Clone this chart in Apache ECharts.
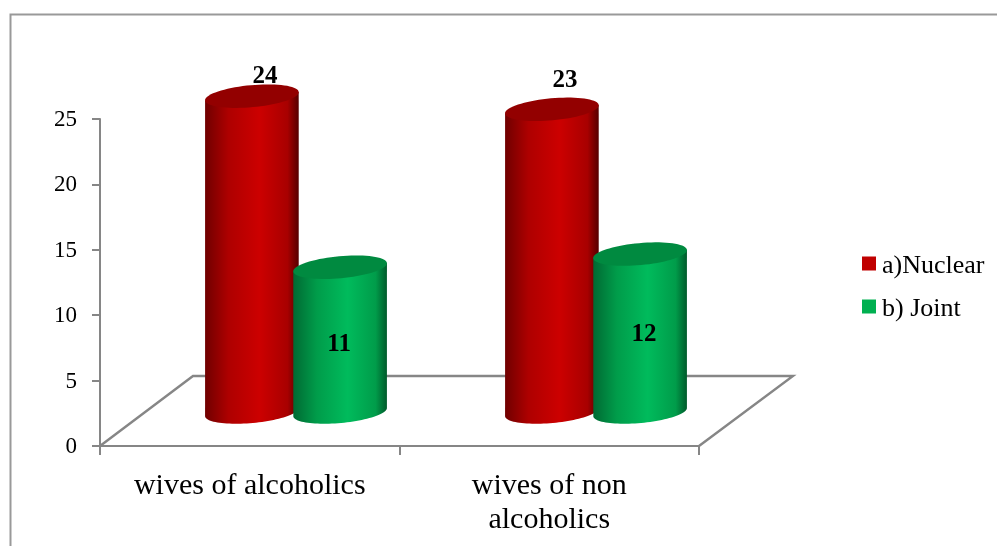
<!DOCTYPE html>
<html>
<head>
<meta charset="utf-8">
<style>html,body{margin:0;padding:0;background:#fff}#c{width:997px;height:546px}</style>
<script src="https://cdn.jsdelivr.net/npm/echarts@6/dist/echarts.min.js"></script>
</head>
<body>
<div id="c"></div>
<script>
const categories = ['wives of alcoholics', 'wives of non\nalcoholics'];
const seriesNames = ['a)Nuclear', 'b) Joint'];
const nuclear = [24, 23];
const joint = [11, 12];
const valueTicks = { min: 0, max: 25, interval: 5 };

const FONT = '"Liberation Serif"';
const AXIS = '#868686';
const labelNudge = { 'a)Nuclear': [[13, -20], [13, -29]], 'b) Joint': [[-1, 77], [4, 80]] };
const look = {
  'a)Nuclear': { solid: '#C00000', top: '#930000',
    stops: [[0, '#700000'], [0.25, '#ae0000'], [0.58, '#cc0000'], [0.88, '#a80000'], [1, '#560000']], shift: -0.147 },
  'b) Joint': { solid: '#00B050', top: '#008a40',
    stops: [[0, '#006a33'], [0.25, '#009c4a'], [0.58, '#00bb5c'], [0.88, '#009c4a'], [1, '#005a2b']], shift: 0.147 }
};

function ellipsePoint(cx, cy, rx, ry, rot, t) {
  const c = Math.cos(rot), s = Math.sin(rot);
  const x = rx * Math.cos(t), y = ry * Math.sin(t);
  return [cx + x * c - y * s, cy + x * s + y * c];
}
function ellipse(cx, cy, rx, ry, rot, from, to, n) {
  const pts = [];
  for (let i = 0; i <= n; i++) pts.push(ellipsePoint(cx, cy, rx, ry, rot, from + (to - from) * i / n));
  return pts;
}

function cylinder(name) {
  const st = look[name];
  return function (params, api) {
    const i = params.dataIndex;
    const band = api.size([1, 0])[0];
    const base = api.coord([i, 0]);
    const head = api.coord([i, api.value(1)]);
    const cx = base[0] + st.shift * band;
    const rx = band * 0.1567, ry = 11, rot = -5.2 * Math.PI / 180;
    const top = ellipse(cx, head[1], rx, ry, rot, 0, 2 * Math.PI, 72);
    const bottomHalf = ellipse(cx, base[1], rx, ry, rot, 0, Math.PI, 48);
    const topRight = ellipsePoint(cx, head[1], rx, ry, rot, 0);
    const topLeft = ellipsePoint(cx, head[1], rx, ry, rot, Math.PI);
    const nudge = labelNudge[name][i];
    return {
      type: 'group',
      children: [
        { type: 'polygon', shape: { points: [topLeft, topRight].concat(bottomHalf) },
          style: { fill: new echarts.graphic.LinearGradient(0, 0, 1, 0,
            st.stops.map(s => ({ offset: s[0], color: s[1] }))) } },
        { type: 'polygon', shape: { points: top }, style: { fill: st.top } },
        { type: 'text', style: { text: String(api.value(1)), x: cx + nudge[0], y: head[1] + nudge[1],
          align: 'center', verticalAlign: 'middle', fill: '#000', font: 'bold 25px ' + FONT } }
      ]
    };
  };
}

function floor(params, api) {
  const band = api.size([1, 0])[0];
  const a = api.coord([0, 0]), b = api.coord([1, 0]);
  a[0] -= band / 2; b[0] += band / 2;
  const dx = 93, dy = -70;
  return { type: 'polyline', shape: { points: [a, [a[0] + dx, a[1] + dy], [b[0] + dx + 1, b[1] + dy], b] },
    style: { stroke: AXIS, lineWidth: 2.4, fill: null } };
}

const chart = echarts.init(document.getElementById('c'), null, { renderer: 'canvas' });
chart.setOption({
  animation: false,
  backgroundColor: '#fff',
  textStyle: { fontFamily: FONT },
  graphic: [{ type: 'rect', shape: { x: 10.5, y: 14.5, width: 1100, height: 700 }, silent: true,
    style: { fill: null, stroke: '#999', lineWidth: 2 } }],
  legend: {
    data: seriesNames, orient: 'vertical', left: 862, top: 253, itemWidth: 14, itemHeight: 14, itemGap: 17,
    icon: 'rect', padding: 0,
    formatter: name => '{t|' + name + '}',
    textStyle: { rich: { t: { fontFamily: FONT, fontSize: 26, color: '#000', padding: [5, 0, 0, 1] } } }
  },
  grid: [
    { left: 100, top: 119, width: 599, height: 327 },
    { left: 146, top: 83, width: 600, height: 329 }
  ],
  xAxis: [
    { type: 'category', gridIndex: 0, data: categories,
      axisLine: { lineStyle: { color: AXIS, width: 2 } },
      axisTick: { show: true, length: 9, lineStyle: { color: AXIS, width: 2 } },
      axisLabel: { color: '#000', fontFamily: FONT, fontSize: 30, lineHeight: 34, margin: 23, interval: 0 } },
    { type: 'category', gridIndex: 1, data: categories, show: false }
  ],
  yAxis: [
    { type: 'value', gridIndex: 0, ...valueTicks, splitLine: { show: false },
      axisLine: { show: true, lineStyle: { color: AXIS, width: 2 } },
      axisTick: { show: true, length: 8, lineStyle: { color: AXIS, width: 2 } },
      axisLabel: { color: '#000', fontFamily: FONT, fontSize: 23, margin: 23, verticalAlign: 'top', lineHeight: 2 } },
    { type: 'value', gridIndex: 1, ...valueTicks, show: false, splitLine: { show: false } }
  ],
  series: [
    { type: 'custom', xAxisIndex: 0, yAxisIndex: 0, data: [[0, 0]], renderItem: floor, silent: true, z: 1, clip: false, tooltip: { show: false } },
    { type: 'custom', name: seriesNames[0], xAxisIndex: 1, yAxisIndex: 1, z: 3,
      itemStyle: { color: look[seriesNames[0]].solid }, data: nuclear.map((v, i) => [i, v]), renderItem: cylinder(seriesNames[0]), encode: { x: 0, y: 1 } },
    { type: 'custom', name: seriesNames[1], xAxisIndex: 1, yAxisIndex: 1, z: 4,
      itemStyle: { color: look[seriesNames[1]].solid }, data: joint.map((v, i) => [i, v]), renderItem: cylinder(seriesNames[1]), encode: { x: 0, y: 1 } }
  ]
});
</script>
</body>
</html>
